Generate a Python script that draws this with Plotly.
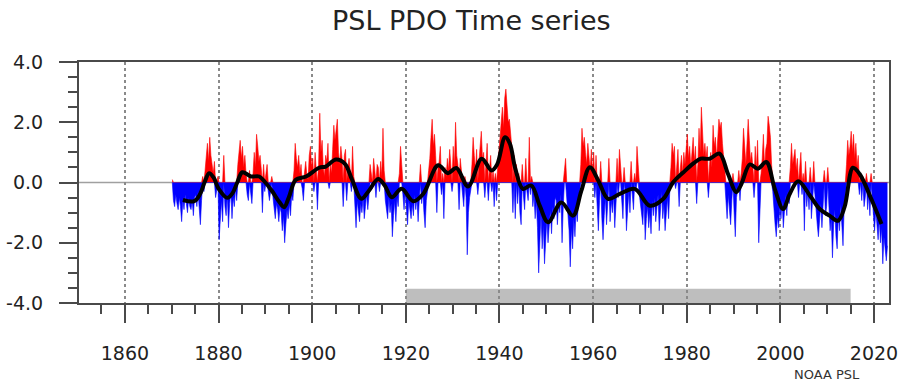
import plotly.graph_objects as go

# ---------------- data ----------------
START_YEAR = 1870
# PDO index, quarterly values (4 per year)
PDO_VALUES = [
    0.1, -0.6, -0.8, -0.4,   # 1870
    -0.7, -0.9, -0.5, -0.8,  # 1871
    -1.3, -0.6, -0.9, -0.4,  # 1872
    -0.7, -1.0, -0.5, -0.8,  # 1873
    -0.9, -0.6, -1.1, -0.5,  # 1874
    -0.4, -0.8, -0.3, -0.9,  # 1875
    -1.4, -0.6, 0.2, -0.3,   # 1876
    0.4, 1.0, 1.3, 0.7,      # 1877
    1.5, 0.9, 0.5, 0.3,      # 1878
    0.7, -0.5, -0.2, 0.2,    # 1879
    -1.9, -1.0, -0.6, -1.3,  # 1880
    0.9, -0.8, -1.1, -0.4,   # 1881
    -1.5, -0.7, -0.3, -1.2,  # 1882
    -0.5, -0.8, -0.2, -0.6,  # 1883
    0.6, 1.0, 1.4, 0.8,      # 1884
    1.2, 0.5, 0.9, 0.3,      # 1885
    -0.4, -0.6, 0.4, -0.3,   # 1886
    -0.7, 0.3, 1.0, 0.5,     # 1887
    1.6, 1.2, 0.7, 0.9,      # 1888
    0.4, -1.0, 0.6, -0.3,    # 1889
    0.3, 0.6, -0.4, -0.6,    # 1890
    -0.3, 0.2, -0.5, -0.8,   # 1891
    -1.2, -0.7, -0.9, -1.3,  # 1892
    -0.8, -1.0, -1.6, -1.1,  # 1893
    -2.0, -1.4, -0.9, -1.2,  # 1894
    -0.7, -1.1, -0.4, -0.6,  # 1895
    0.4, 1.3, 0.8, 0.5,      # 1896
    0.9, 0.3, 0.6, -0.2,     # 1897
    -0.6, 0.4, 0.7, 0.2,     # 1898
    0.1, 0.9, 1.2, 0.5,      # 1899
    0.8, -0.3, 1.0, 0.4,     # 1900
    -0.9, 0.6, 2.3, 1.0,     # 1901
    1.4, 0.5, 0.2, 0.9,      # 1902
    0.7, 1.3, -0.2, 0.6,     # 1903
    0.3, 1.1, 1.9, 1.4,      # 1904
    1.7, 2.1, 1.0, 0.6,      # 1905
    1.2, 0.8, -0.8, 0.9,     # 1906
    1.1, -0.6, 0.5, 0.8,     # 1907
    0.4, -0.3, 1.2, 0.2,     # 1908
    -0.9, -1.5, -0.6, -1.1,  # 1909
    -1.3, -0.7, -1.0, -0.5,  # 1910
    -1.2, -0.8, -0.4, -0.9,  # 1911
    -0.4, 0.6, 0.3, -0.2,    # 1912
    0.8, 0.4, -0.5, 0.6,     # 1913
    0.5, -0.3, 0.7, 0.2,     # 1914
    1.8, 0.4, -0.6, -0.9,    # 1915
    -1.2, -0.5, -1.0, -0.7,  # 1916
    -1.8, -1.1, -0.6, -1.3,  # 1917
    -0.5, -0.8, 0.3, 1.2,    # 1918
    0.6, -0.4, -0.9, -0.3,   # 1919
    -0.8, -1.4, -0.6, -1.0,  # 1920
    -1.2, -0.7, -1.1, -0.4,  # 1921
    -0.9, -0.5, -1.3, -0.6,  # 1922
    0.6, -0.7, -0.3, -1.0,   # 1923
    -1.5, -0.6, -0.2, 0.4,   # 1924
    0.8, 1.5, 2.1, 1.2,      # 1925
    1.6, 0.9, -1.0, 0.5,     # 1926
    0.7, 1.2, -0.4, 0.3,     # 1927
    -1.2, 0.5, 0.2, 0.8,     # 1928
    0.4, 1.1, 0.6, -0.3,     # 1929
    1.2, 0.5, 2.0, 0.9,      # 1930
    0.6, -0.9, 0.8, 0.3,     # 1931
    -0.4, -0.8, 0.2, -0.5,   # 1932
    -2.4, -1.0, -0.5, -0.3,  # 1933
    0.6, 1.5, 0.9, 0.4,      # 1934
    1.1, -0.4, 0.7, 1.3,     # 1935
    1.7, 0.8, 1.0, -0.5,     # 1936
    0.6, 1.3, -0.6, 0.5,     # 1937
    0.9, -0.3, 0.4, -0.8,    # 1938
    0.3, -0.6, 0.5, 1.0,     # 1939
    1.6, 2.1, 2.5, 1.8,      # 1940
    2.8, 3.1, 2.4, 2.0,      # 1941
    2.1, 1.6, 1.2, -1.0,     # 1942
    0.9, -1.2, 0.6, -0.7,    # 1943
    0.3, -1.0, -1.4, 0.6,    # 1944
    -0.5, -0.9, 0.8, -0.3,   # 1945
    -0.6, 1.5, -0.4, 0.2,    # 1946
    -0.8, -0.4, -1.2, -0.6,  # 1947
    -1.5, -3.0, -1.8, -1.0,  # 1948
    -2.2, -1.4, -2.7, -1.6,  # 1949
    -1.2, -2.0, -1.5, -0.9,  # 1950
    -1.7, -0.8, -1.2, -0.5,  # 1951
    -0.6, -1.4, -0.7, -1.0,  # 1952
    -0.4, -2.0, -0.8, 0.4,   # 1953
    0.8, -0.6, -1.1, -1.6,   # 1954
    -2.8, -1.5, -2.2, -1.2,  # 1955
    -1.8, -0.9, -1.3, -0.5,  # 1956
    -0.3, 0.6, 1.8, 1.2,     # 1957
    1.5, 1.0, 0.6, 1.3,      # 1958
    0.9, 0.4, 1.1, 0.3,      # 1959
    1.0, -0.5, 0.9, -0.8,    # 1960
    -1.6, -0.6, 0.7, -1.2,   # 1961
    -1.9, -1.1, -0.5, -1.4,  # 1962
    -0.8, 0.8, -1.3, -0.6,   # 1963
    -1.0, -0.4, -1.5, -0.7,  # 1964
    0.8, -0.5, 1.1, 0.3,     # 1965
    -0.6, -1.2, 0.5, -0.3,   # 1966
    -1.6, -0.8, -0.3, -1.0,  # 1967
    0.7, -0.4, -0.9, 0.3,    # 1968
    -0.3, 1.2, 0.6, -0.4,    # 1969
    -0.7, -1.0, -1.4, -0.5,  # 1970
    -1.9, -1.2, -0.8, -1.5,  # 1971
    -1.0, -1.7, -0.6, -1.1,  # 1972
    -0.5, -1.3, -0.8, -0.4,  # 1973
    -1.6, -0.9, -0.3, -1.2,  # 1974
    -0.7, -1.6, -0.9, -0.5,  # 1975
    -1.2, -0.3, 0.5, 1.3,    # 1976
    0.9, 1.2, -0.2, 0.6,     # 1977
    1.1, -0.8, 0.4, 0.9,     # 1978
    0.3, 1.0, 0.6, 1.3,      # 1979
    1.6, 0.8, 1.2, 0.5,      # 1980
    1.0, 1.5, 0.7, 1.2,      # 1981
    -0.7, 0.6, 1.8, 1.0,     # 1982
    2.5, 1.6, 0.9, 1.3,      # 1983
    0.8, 1.2, -0.5, 0.6,     # 1984
    1.0, 0.5, 1.9, 1.2,      # 1985
    1.5, 0.8, 1.6, 2.1,      # 1986
    1.8, 2.0, 1.3, 0.7,      # 1987
    0.4, -0.6, -1.2, -0.4,   # 1988
    -0.8, -1.4, -0.6, 0.3,   # 1989
    -1.0, -1.8, -0.5, -0.2,  # 1990
    0.4, -0.6, 0.3, 0.8,     # 1991
    1.8, 1.0, 0.6, 1.3,      # 1992
    2.1, 1.4, 0.7, 1.0,      # 1993
    0.6, -0.5, 1.2, 0.4,     # 1994
    1.4, -2.0, -0.7, 0.3,    # 1995
    0.8, 1.6, 0.5, 1.1,      # 1996
    1.3, 2.2, 1.9, 1.5,      # 1997
    0.6, -0.3, -1.0, -1.4,   # 1998
    -1.8, -1.1, -1.5, -0.8,  # 1999
    -1.2, -0.6, -1.5, -0.9,  # 2000
    -0.4, -1.1, -0.3, -0.7,  # 2001
    0.5, 1.3, 0.6, 0.9,      # 2002
    1.1, 0.4, 0.8, -0.5,     # 2003
    0.6, 1.0, -0.4, 0.3,     # 2004
    -1.6, 0.7, -0.8, -0.3,   # 2005
    -0.9, 0.5, -1.2, -0.6,   # 2006
    0.7, -0.4, -1.0, -1.4,   # 2007
    -1.8, -1.2, -0.7, -1.5,  # 2008
    -0.6, 0.4, -1.1, -0.8,   # 2009
    0.5, -0.9, -1.6, -1.2,   # 2010
    -2.5, -1.4, -0.9, -1.8,  # 2011
    -2.2, -1.1, -1.6, -0.7,  # 2012
    -1.3, -2.1, -0.8, -0.5,  # 2013
    0.6, 1.4, 0.9, 1.2,      # 2014
    1.7, 1.0, 1.6, 0.8,      # 2015
    1.3, 0.5, 0.9, -0.4,     # 2016
    0.3, -0.6, 0.2, -0.8,    # 2017
    -0.5, 0.3, -0.9, -0.4,   # 2018
    -1.1, 0.3, -0.6, -1.3,   # 2019
    -1.6, -0.9, -1.4, -1.9,  # 2020
    -1.2, -2.0, -1.5, -2.7,  # 2021
    -1.8, -2.2, -2.6, -2.1,  # 2022
]

# smoothed (low-pass) curve
SMOOTH_YEARS = [1872.4, 1874.8, 1876.0, 1877.0, 1878.0, 1879.0, 1880.0, 1881.9, 1883.0,
                1884.0, 1885.1, 1886.9, 1888.7, 1890.0, 1891.5, 1893.0, 1894.0, 1895.0,
                1896.5, 1898.7, 1901.5, 1902.9, 1905.1, 1907.0, 1908.5, 1910.5, 1912.0,
                1914.1, 1915.5, 1917.0, 1919.1, 1921.6, 1923.7, 1926.9, 1929.0, 1930.8,
                1933.3, 1936.2, 1938.3, 1939.5, 1941.2, 1942.2, 1943.4, 1945.0, 1946.8,
                1948.6, 1950.4, 1953.2, 1955.7, 1957.5, 1959.3, 1961.1, 1963.2, 1965.7,
                1968.9, 1972.1, 1975.0, 1977.1, 1979.3, 1981.5, 1983.0, 1984.9, 1987.0,
                1988.8, 1990.6, 1991.7, 1993.5, 1995.2, 1997.0, 1998.8, 2000.6, 2002.0,
                2003.8, 2006.3, 2008.4, 2010.5, 2012.3, 2013.7, 2015.5, 2016.9, 2019.4,
                2021.6]
SMOOTH_VALUES = [-0.58, -0.62, -0.40, 0.00, 0.31, 0.15, -0.20, -0.51, -0.35,
                 0.00, 0.34, 0.20, 0.20, 0.00, -0.30, -0.65, -0.82, -0.50,
                 0.09, 0.20, 0.49, 0.53, 0.76, 0.62, 0.10, -0.54, -0.30,
                 0.12, -0.10, -0.49, -0.21, -0.62, -0.38, 0.57, 0.31, 0.48,
                 -0.13, 0.79, 0.40, 0.60, 1.50, 1.30, 0.45, -0.21, -0.10,
                 -0.77, -1.32, -0.66, -1.10, -0.27, 0.51, 0.07, -0.54, -0.38,
                 -0.21, -0.77, -0.54, 0.01, 0.34, 0.64, 0.79, 0.79, 0.96,
                 0.29, -0.32, -0.04, 0.60, 0.46, 0.68, -0.21, -0.88, -0.38,
                 0.04, -0.43, -0.88, -1.10, -1.27, -0.82, 0.49, 0.29, -0.54,
                 -1.38]

REF_PERIOD = [1920, 2015]
X_TICKS = [1860, 1880, 1900, 1920, 1940, 1960, 1980, 2000, 2020]
Y_TICKS = [-4, -2, 0, 2, 4]
Y_TICK_LABELS = ["-4.0", "-2.0", "0.0", "2.0", "4.0"]
TITLE = "PSL PDO Time series"
CREDIT = "NOAA PSL"

# ---------------- figure ----------------
xq = [START_YEAR + 0.125 + 0.25 * i for i in range(len(PDO_VALUES))]
pos = [max(v, 0.0) for v in PDO_VALUES]
neg = [min(v, 0.0) for v in PDO_VALUES]

AX = "#4a4a4a"
FONT = "DejaVu Sans"

fig = go.Figure()
fig.add_trace(go.Scatter(x=xq, y=pos, mode="lines", fill="tozeroy",
                         fillcolor="#ff0000", line=dict(width=0.6, color="#ff0000"),
                         hoverinfo="skip", showlegend=False))
fig.add_trace(go.Scatter(x=xq, y=neg, mode="lines", fill="tozeroy",
                         fillcolor="#0000ff", line=dict(width=0.6, color="#0000ff"),
                         hoverinfo="skip", showlegend=False))
fig.add_trace(go.Scatter(x=SMOOTH_YEARS, y=SMOOTH_VALUES, mode="lines",
                         line=dict(color="black", width=4, shape="spline", smoothing=1.0),
                         hoverinfo="skip", showlegend=False))

fig.add_shape(type="line", xref="paper", x0=0, x1=1, yref="y", y0=0, y1=0,
              line=dict(color="#a0a0a0", width=1.5), layer="below")
fig.add_shape(type="rect", xref="x", yref="y", x0=REF_PERIOD[0], x1=REF_PERIOD[1],
              y0=-4, y1=-3.53, fillcolor="#bebebe", line=dict(width=0), layer="below")

fig.add_annotation(text=TITLE, xref="paper", yref="paper", x=0.484, y=1.174,
                   xanchor="center", yanchor="middle", showarrow=False,
                   font=dict(family=FONT, size=27, color="#222"))
fig.add_annotation(text=CREDIT, xref="paper", yref="paper", x=0.923, y=-0.295,
                   xanchor="center", yanchor="middle", showarrow=False,
                   font=dict(family=FONT, size=13, color="#333"))

fig.update_layout(
    width=903, height=389,
    margin=dict(l=79, r=14, t=62, b=86, autoexpand=False),
    paper_bgcolor="white", plot_bgcolor="white",
    showlegend=False,
    xaxis=dict(range=[1850.2, 2023.2], tickmode="array", tickvals=X_TICKS,
               automargin=False,
               ticks="outside", ticklen=18, tickwidth=2, tickcolor=AX,
               showline=True, linecolor=AX, linewidth=2, mirror=True,
               showgrid=True, gridcolor="#8a8a8a", gridwidth=1.5, griddash="dot",
               zeroline=False,
               minor=dict(tickmode="linear", tick0=1850, dtick=5, ticks="outside",
                          ticklen=9, tickwidth=1.5, tickcolor=AX, showgrid=False),
               tickfont=dict(family=FONT, size=19, color="#222"),
               ticklabelstandoff=14),
    yaxis=dict(range=[-4, 4], tickmode="array", tickvals=Y_TICKS, ticktext=Y_TICK_LABELS,
               automargin=False,
               ticks="outside", ticklen=18, tickwidth=2, tickcolor=AX,
               showline=True, linecolor=AX, linewidth=2, mirror=True,
               showgrid=False, zeroline=False,
               minor=dict(tickmode="linear", tick0=-4, dtick=0.5, ticks="outside",
                          ticklen=9, tickwidth=1.5, tickcolor=AX, showgrid=False),
               tickfont=dict(family=FONT, size=19, color="#222"),
               ticklabelstandoff=12),
)

fig.write_html("out.html", config={"displayModeBar": False},
               post_script="document.body.style.margin='0';document.body.style.overflow='hidden';")
